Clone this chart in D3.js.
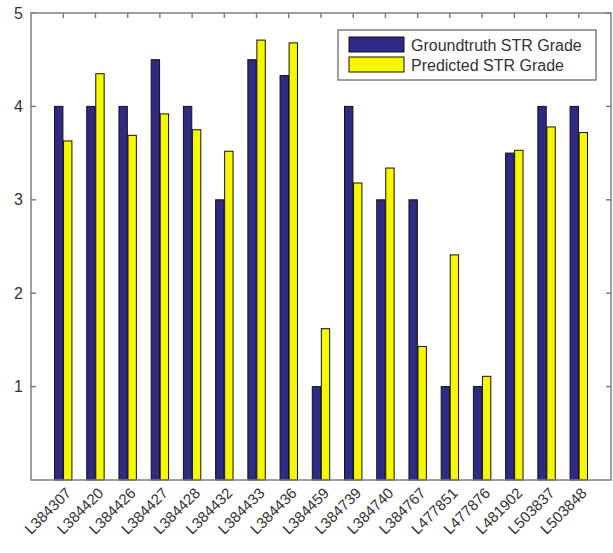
<!DOCTYPE html>
<html><head><meta charset="utf-8">
<script src="https://cdn.jsdelivr.net/npm/d3@7"></script>
<style>body{margin:0;background:#fff}svg{display:block}text{font-family:"Liberation Sans",Arial,sans-serif}</style>
</head><body><svg id="c" width="613" height="553"></svg>
<script>
const categories = ["L384307","L384420","L384426","L384427","L384428","L384432","L384433","L384436","L384459","L384739","L384740","L384767","L477851","L477876","L481902","L503837","L503848"];
const groundtruth = [4,4,4,4.5,4,3,4.5,4.33,1,4,3,3,1,1,3.5,4,4];
const predicted = [3.63,4.35,3.69,3.92,3.75,3.52,4.71,4.68,1.62,3.18,3.34,1.43,2.41,1.11,3.53,3.78,3.72];
const seriesNames = ["Groundtruth STR Grade","Predicted STR Grade"];
const yTicks = [1,2,3,4,5];
const colors = ["#2f2a85","#f7f700"];

const svg = d3.select("#c");
const L=31, R=611, T=13, B=480;
const x = d3.scaleLinear().domain([0, categories.length+1]).range([L,R]);
const y = d3.scaleLinear().domain([0,5]).range([B,T]);
const barW = 0.26, off = 0.14;
const axisCol = "#7f7f7f", txtCol = "#333";

const series = [groundtruth, predicted];
series.forEach((vals,s)=>{
  svg.append("g").selectAll("rect").data(vals).join("rect")
    .attr("x",(d,i)=>x(i+1 + (s===0?-off:off) - barW/2))
    .attr("width",x(barW)-x(0))
    .attr("y",d=>y(d)).attr("height",d=>y(0)-y(d))
    .attr("fill",colors[s]).attr("stroke","#111").attr("stroke-width",1);
});

// frame
svg.append("rect").attr("x",L).attr("y",T).attr("width",R-L).attr("height",B-T)
  .attr("fill","none").attr("stroke",axisCol).attr("stroke-width",1.5);

const tk = 5;
const xt = d3.range(1,categories.length+1);
svg.append("g").selectAll("line").data(xt).join("line")
  .attr("x1",d=>x(d)).attr("x2",d=>x(d)).attr("y1",T).attr("y2",T+tk)
  .attr("stroke",axisCol).attr("stroke-width",1.5);
svg.append("g").selectAll("line").data(yTicks).join("line")
  .attr("x1",L).attr("x2",L+tk).attr("y1",d=>y(d)).attr("y2",d=>y(d))
  .attr("stroke",axisCol).attr("stroke-width",1.5);
svg.append("g").selectAll("line").data(yTicks).join("line")
  .attr("x1",R).attr("x2",R-tk).attr("y1",d=>y(d)).attr("y2",d=>y(d))
  .attr("stroke",axisCol).attr("stroke-width",1.5);

svg.append("g").selectAll("text").data(yTicks).join("text")
  .attr("x",L-8).attr("y",d=>y(d)).attr("dy","0.35em")
  .attr("text-anchor","end").attr("font-size",16).attr("fill",txtCol).text(d=>d);

svg.append("g").selectAll("text").data(categories).join("text")
  .attr("transform",(d,i)=>`translate(${x(i+1)+9},${B+14}) rotate(-45)`)
  .attr("text-anchor","end").attr("font-size",15).attr("fill",txtCol).text(d=>d);

// legend
const lg = svg.append("g");
lg.append("rect").attr("x",338).attr("y",30).attr("width",258).attr("height",50)
  .attr("fill","#fff").attr("stroke",axisCol).attr("stroke-width",1.5);
seriesNames.forEach((n,i)=>{
  lg.append("rect").attr("x",349).attr("y",37+i*20).attr("width",55).attr("height",15)
    .attr("fill",colors[i]).attr("stroke","#111");
  lg.append("text").attr("x",411).attr("y",45+i*20).attr("dy","0.35em")
    .attr("font-size",16).attr("fill",txtCol).text(n);
});
</script></body></html>
